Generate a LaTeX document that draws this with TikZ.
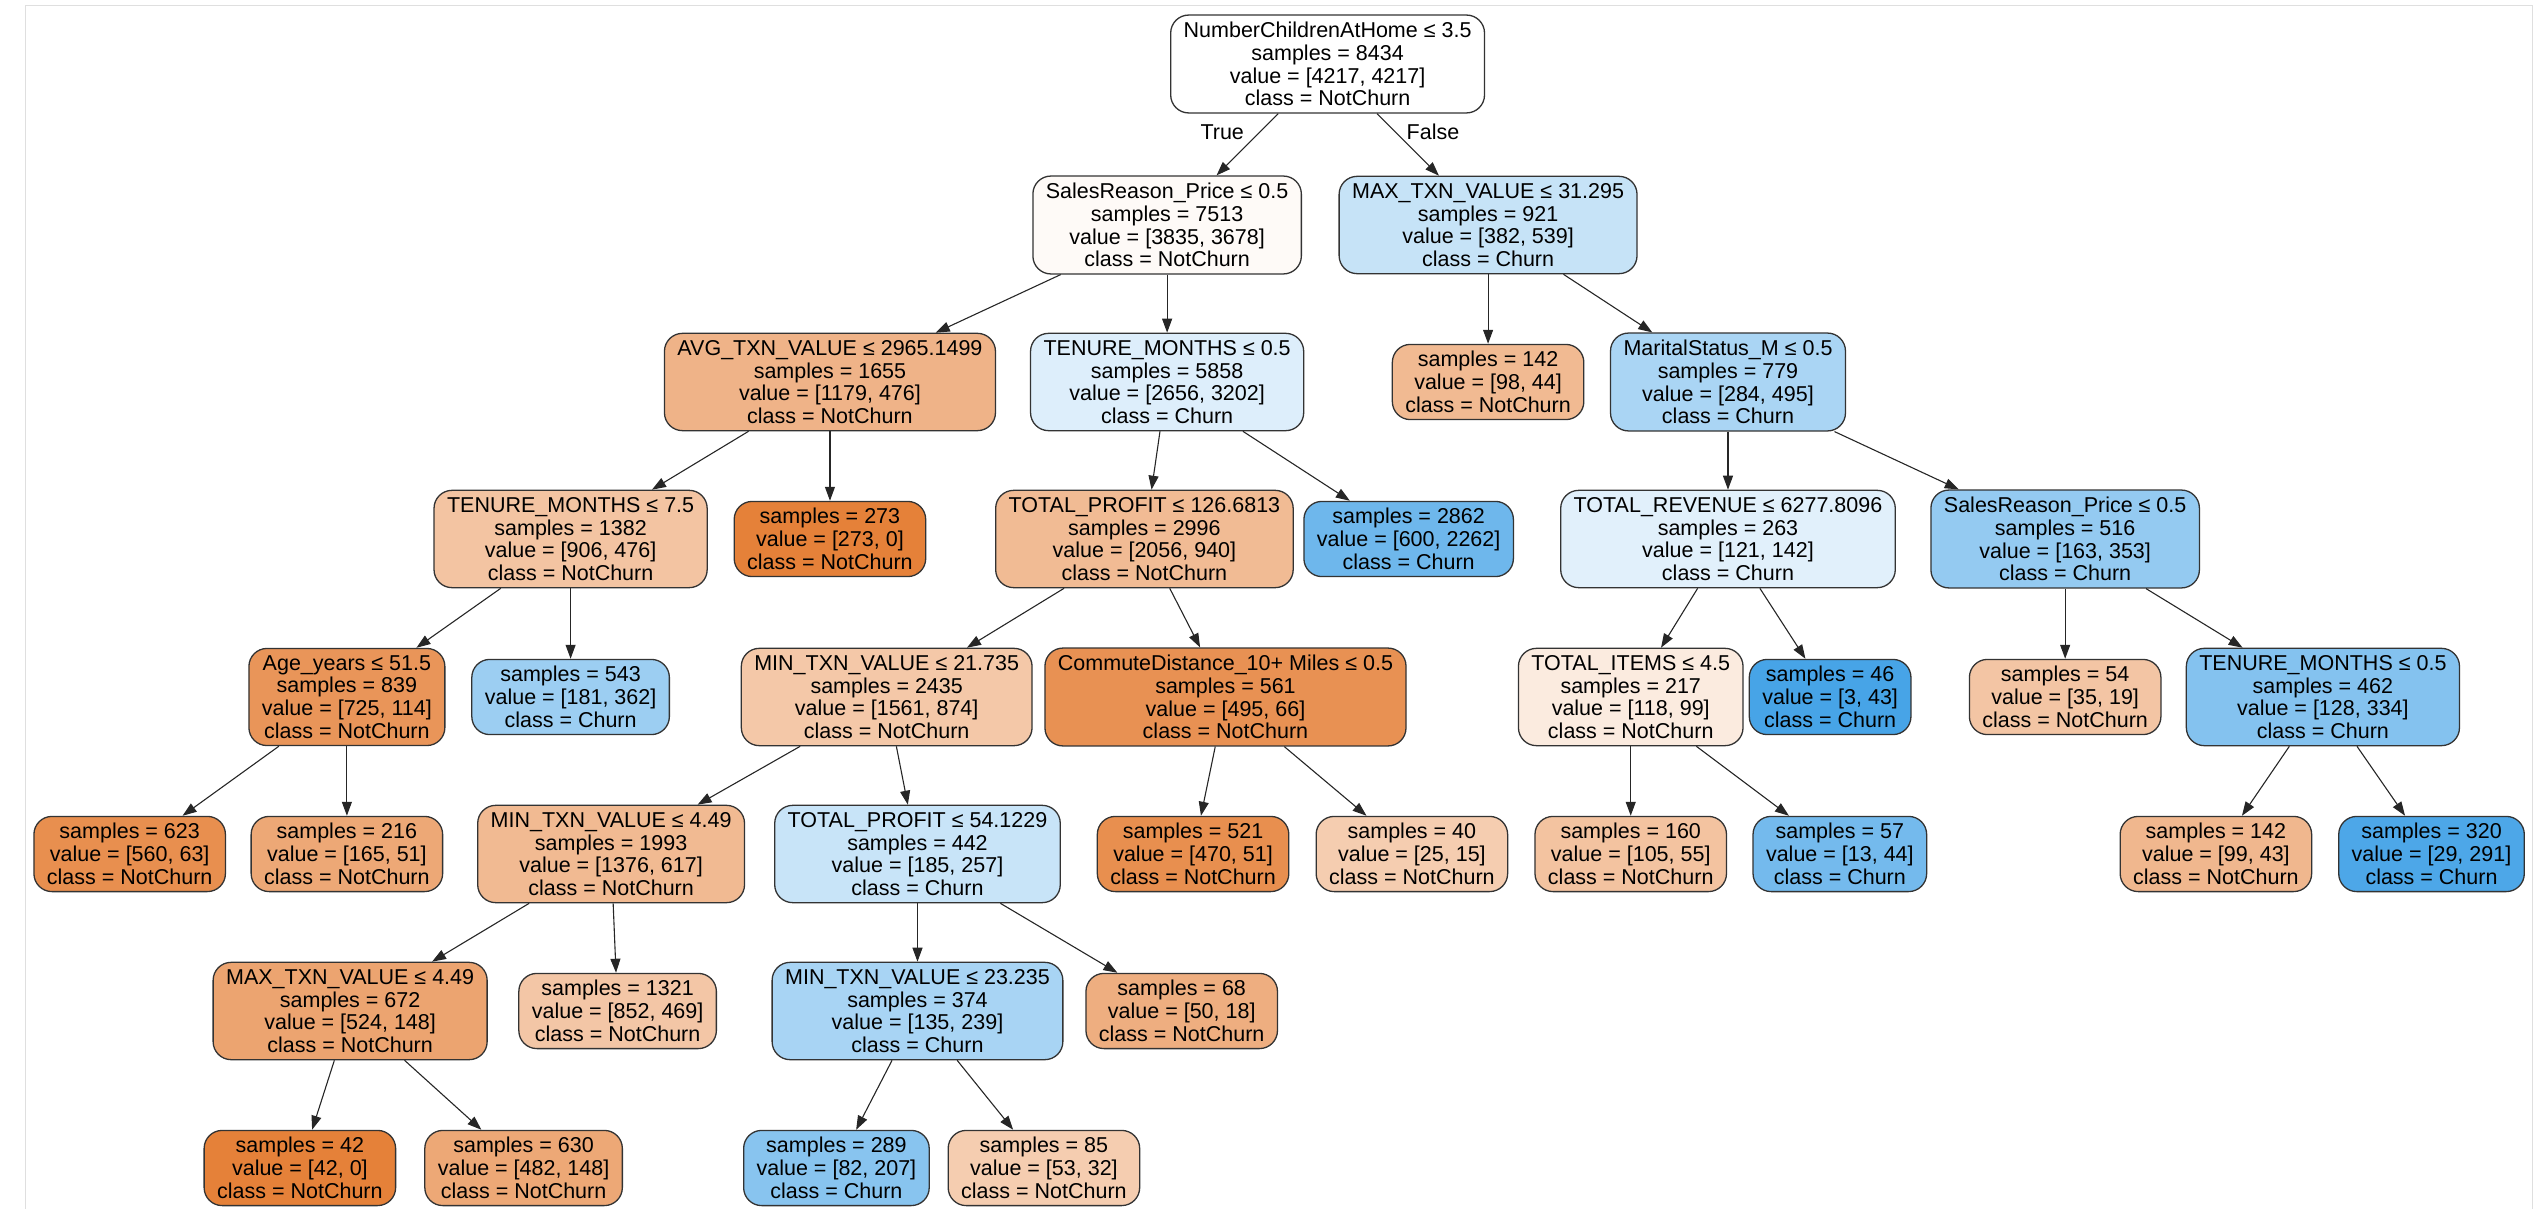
\documentclass[tikz,border=0pt]{standalone}
\usepackage{fontspec}
\setmainfont{Liberation Sans}
\usetikzlibrary{arrows.meta}
\definecolor{Or}{HTML}{E58139}
\definecolor{Bl}{HTML}{399DE5}
\tikzset{
  nd/.style={draw=black!80,line width=1.3pt,rounded corners=18pt,inner xsep=13pt,inner ysep=7pt,align=center,font=\fontsize{21.5}{22.7}\selectfont},
  o/.style={nd,fill=Or!#1!white}, b/.style={nd,fill=Bl!#1!white},
  ed/.style={draw=black!85,line width=1.1pt,-{Triangle[length=14pt,width=10pt]}},
  lb/.style={font=\fontsize{21.5}{22.7}\selectfont}}
\begin{document}
\begin{tikzpicture}[x=1.621pt,y=-1pt]
\useasboundingbox (0,0) rectangle (1568.17,1209);
\clip (0,0) rectangle (1568.17,1209);
\draw[gray!25,line width=1pt] (16,1209) -- (16,6) -- (1562,6) -- (1562,1209);
\def\La{64}\def\Lb{225}\def\Lc{382}\def\Ld{539}\def\Le{697}\def\Lf{854}\def\Lg{1011}\def\Lh{1168}
\node[o=0] (n1) at (819,\La) {NumberChildrenAtHome ≤ 3.5\\samples = 8434\\value = [4217, 4217]\\class = NotChurn};
\node[o=4] (n2) at (720,\Lb) {SalesReason\_Price ≤ 0.5\\samples = 7513\\value = [3835, 3678]\\class = NotChurn};
\node[b=29] (n3) at (918,\Lb) {MAX\_TXN\_VALUE ≤ 31.295\\samples = 921\\value = [382, 539]\\class = Churn};
\node[o=60] (n4) at (512,\Lc) {AVG\_TXN\_VALUE ≤ 2965.1499\\samples = 1655\\value = [1179, 476]\\class = NotChurn};
\node[b=17] (n5) at (720,\Lc) {TENURE\_MONTHS ≤ 0.5\\samples = 5858\\value = [2656, 3202]\\class = Churn};
\node[o=55] (n6) at (918,\Lc) {samples = 142\\value = [98, 44]\\class = NotChurn};
\node[b=43] (n7) at (1066,\Lc) {MaritalStatus\_M ≤ 0.5\\samples = 779\\value = [284, 495]\\class = Churn};
\node[o=47] (n8) at (352,\Ld) {TENURE\_MONTHS ≤ 7.5\\samples = 1382\\value = [906, 476]\\class = NotChurn};
\node[o=100] (n9) at (512,\Ld) {samples = 273\\value = [273, 0]\\class = NotChurn};
\node[o=54] (n10) at (706,\Ld) {TOTAL\_PROFIT ≤ 126.6813\\samples = 2996\\value = [2056, 940]\\class = NotChurn};
\node[b=73] (n11) at (869,\Ld) {samples = 2862\\value = [600, 2262]\\class = Churn};
\node[b=15] (n12) at (1066,\Ld) {TOTAL\_REVENUE ≤ 6277.8096\\samples = 263\\value = [121, 142]\\class = Churn};
\node[b=54] (n13) at (1274,\Ld) {SalesReason\_Price ≤ 0.5\\samples = 516\\value = [163, 353]\\class = Churn};
\node[o=84] (n14) at (214,\Le) {Age\_years ≤ 51.5\\samples = 839\\value = [725, 114]\\class = NotChurn};
\node[b=50] (n15) at (352,\Le) {samples = 543\\value = [181, 362]\\class = Churn};
\node[o=44] (n16) at (547,\Le) {MIN\_TXN\_VALUE ≤ 21.735\\samples = 2435\\value = [1561, 874]\\class = NotChurn};
\node[o=87] (n17) at (756,\Le) {CommuteDistance\_10+ Miles ≤ 0.5\\samples = 561\\value = [495, 66]\\class = NotChurn};
\node[o=16] (n18) at (1006,\Le) {TOTAL\_ITEMS ≤ 4.5\\samples = 217\\value = [118, 99]\\class = NotChurn};
\node[b=93] (n19) at (1129,\Le) {samples = 46\\value = [3, 43]\\class = Churn};
\node[o=46] (n20) at (1274,\Le) {samples = 54\\value = [35, 19]\\class = NotChurn};
\node[b=62] (n21) at (1433,\Le) {TENURE\_MONTHS ≤ 0.5\\samples = 462\\value = [128, 334]\\class = Churn};
\node[o=89] (n22) at (80,\Lf) {samples = 623\\value = [560, 63]\\class = NotChurn};
\node[o=69] (n23) at (214,\Lf) {samples = 216\\value = [165, 51]\\class = NotChurn};
\node[o=55] (n24) at (377,\Lf) {MIN\_TXN\_VALUE ≤ 4.49\\samples = 1993\\value = [1376, 617]\\class = NotChurn};
\node[b=28] (n25) at (566,\Lf) {TOTAL\_PROFIT ≤ 54.1229\\samples = 442\\value = [185, 257]\\class = Churn};
\node[o=89] (n26) at (736,\Lf) {samples = 521\\value = [470, 51]\\class = NotChurn};
\node[o=40] (n27) at (871,\Lf) {samples = 40\\value = [25, 15]\\class = NotChurn};
\node[o=48] (n28) at (1006,\Lf) {samples = 160\\value = [105, 55]\\class = NotChurn};
\node[b=70] (n29) at (1135,\Lf) {samples = 57\\value = [13, 44]\\class = Churn};
\node[o=57] (n30) at (1367,\Lf) {samples = 142\\value = [99, 43]\\class = NotChurn};
\node[b=90] (n31) at (1500,\Lf) {samples = 320\\value = [29, 291]\\class = Churn};
\node[o=72] (n32) at (216,\Lg) {MAX\_TXN\_VALUE ≤ 4.49\\samples = 672\\value = [524, 148]\\class = NotChurn};
\node[o=45] (n33) at (381,\Lg) {samples = 1321\\value = [852, 469]\\class = NotChurn};
\node[b=44] (n34) at (566,\Lg) {MIN\_TXN\_VALUE ≤ 23.235\\samples = 374\\value = [135, 239]\\class = Churn};
\node[o=64] (n35) at (729,\Lg) {samples = 68\\value = [50, 18]\\class = NotChurn};
\node[o=100] (n36) at (185,\Lh) {samples = 42\\value = [42, 0]\\class = NotChurn};
\node[o=69] (n37) at (323,\Lh) {samples = 630\\value = [482, 148]\\class = NotChurn};
\node[b=60] (n38) at (516,\Lh) {samples = 289\\value = [82, 207]\\class = Churn};
\node[o=40] (n39) at (644,\Lh) {samples = 85\\value = [53, 32]\\class = NotChurn};
\foreach \a/\b in {1/2,1/3,2/4,2/5,3/6,3/7,4/8,4/9,5/10,5/11,7/12,7/13,8/14,8/15,10/16,10/17,12/18,12/19,13/20,13/21,14/22,14/23,16/24,16/25,17/26,17/27,18/28,18/29,21/30,21/31,24/32,24/33,25/34,25/35,32/36,32/37,34/38,34/39}
  \draw[ed] (n\a) -- (n\b);
\node[lb] (t) at (754,132) {True};
\node[lb] (f) at (884,132) {False};
\end{tikzpicture}
\end{document}
